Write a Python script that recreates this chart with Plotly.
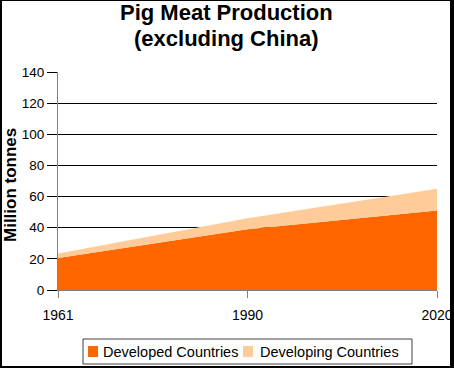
import plotly.graph_objects as go

years = ["1961", "1990", "2020"]
developed = [20.5, 39, 51]
developing = [3, 7, 14]
y_ticks = [0, 20, 40, 60, 80, 100, 120, 140]
series_names = ["Developed Countries", "Developing Countries"]
series_colors = ["#FF6600", "#FFCC99"]

W, H = 454, 368
ML, MR, MT, MB = 58, 17, 72, 78
PW, PH = W - ML - MR, H - MT - MB

def px(x):
    return (x - ML) / PW

def py(y):
    return (H - MB - y) / PH

FONT = "Liberation Sans, Arial"
xs = list(range(len(years)))

fig = go.Figure()
for vals, nm, col in zip([developed, developing], series_names, series_colors):
    fig.add_trace(go.Scatter(x=xs, y=vals, name=nm, stackgroup="one",
                             mode="none", fillcolor=col, showlegend=False,
                             hoverinfo="skip"))

shapes = []
# outer frame
for x0, x1, y0, y1 in [(0, 2, 0, H), (0, W, 0, 1), (450, W, 0, H), (0, W, 366, H)]:
    shapes.append(dict(type="rect", xref="paper", yref="paper",
                       x0=px(x0), x1=px(x1), y0=py(y0), y1=py(y1),
                       fillcolor="black", line=dict(width=0), layer="above"))
# legend box
shapes.append(dict(type="rect", xref="paper", yref="paper",
                   x0=px(83), x1=px(412), y0=py(339), y1=py(364),
                   fillcolor="white", line=dict(color="#404040", width=1)))
annotations = []
leg_sym_x = [88, 243]
leg_txt_x = [101, 258]
for sx, tx, nm, col in zip(leg_sym_x, leg_txt_x, series_names, series_colors):
    shapes.append(dict(type="rect", xref="paper", yref="paper",
                       x0=px(sx), x1=px(sx + 10), y0=py(346), y1=py(357),
                       fillcolor=col, line=dict(width=0)))
    annotations.append(dict(text=nm, xref="paper", yref="paper",
                            x=px(tx), y=py(352), xanchor="left", yanchor="middle",
                            showarrow=False,
                            font=dict(family=FONT, size=14.5, color="black")))
# title lines
for txt, yc in [("Pig Meat Production", 12), ("(excluding China)", 38)]:
    annotations.append(dict(text="<b>" + txt + "</b>", xref="paper", yref="paper",
                            x=px(226), y=py(yc), xanchor="center", yanchor="middle",
                            showarrow=False,
                            font=dict(family=FONT, size=22, color="black")))
# y-axis title
annotations.append(dict(text="<b>Million tonnes</b>", xref="paper", yref="paper",
                        x=px(10), y=py(185), xanchor="center", yanchor="middle",
                        textangle=-90, showarrow=False,
                        font=dict(family=FONT, size=17, color="black")))

fig.update_layout(
    width=W, height=H,
    margin=dict(l=ML, r=MR, t=MT, b=MB, pad=0, autoexpand=False),
    paper_bgcolor="white", plot_bgcolor="white",
    showlegend=False,
    hovermode=False,
    xaxis=dict(range=[0, 2], tickvals=xs, ticktext=years, automargin=False,
               showgrid=False, zeroline=False, showline=True,
               linecolor="#808080", ticks="outside", ticklen=7,
               tickcolor="#808080", ticklabelstandoff=5,
               tickfont=dict(family=FONT, size=14, color="black")),
    yaxis=dict(range=[0, 140], tickvals=y_ticks, showgrid=True, automargin=False,
               gridcolor="black", gridwidth=1, zeroline=False,
               showline=True, linecolor="#808080", ticks="outside",
               ticklen=10, tickcolor="black",
               tickfont=dict(family=FONT, size=13.5, color="black")),
    shapes=shapes,
    annotations=annotations,
)

fig.write_html("out.html", config={"displayModeBar": False},
               post_script="document.body.style.margin='0';"
                           "document.body.style.overflow='hidden';")
